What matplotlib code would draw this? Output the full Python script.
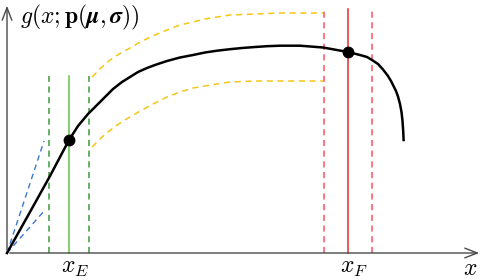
import numpy as np
import matplotlib
matplotlib.use("Agg")
import matplotlib.pyplot as plt

plt.rcParams["mathtext.fontset"] = "cm"

# curve g(x)
curve_x = [0, 23, 43, 62, 71, 81, 90, 98, 106, 115, 123, 131, 140, 148, 160, 173, 186, 198,
           210, 223, 235, 248, 260, 273, 293, 316, 341, 353, 360, 365, 371, 376, 381, 384,
           386, 389, 391, 393, 394.5, 395.5, 396.2, 396.6]
curve_y = [0, 41, 77, 113, 127, 139, 148, 156, 164, 171, 176, 181, 185, 188, 192, 195.5, 198, 200.5,
           202.3, 203.8, 205, 206, 206.8, 207.3, 207.3, 205.5, 201, 198, 196, 193, 189, 183.5, 177, 172,
           168, 162, 156.5, 149, 141, 132, 122, 113]

# yellow bands
upper_x = [85, 95, 103, 112, 123, 135, 148, 160, 173, 186, 198, 210, 223, 248, 273, 316]
upper_y = [176, 186, 193, 199, 205, 212, 218, 223, 228, 231, 234, 236, 238, 239, 240, 240]
lower_x = [85, 95, 106, 116, 123, 135, 148, 160, 173, 186, 198, 210, 223, 248, 273, 316]
lower_y = [106, 116, 125, 132, 136, 143, 150, 156, 161, 165, 167, 169, 171, 172, 172, 172]

# blue tangents
tan_hi = ([0, 37], [0, 112])
tan_lo = ([0, 38], [0, 43])

# marked points
x_E = 62
x_F = 341
dx_E = 20
dx_F = 24
top_E = 177
top_F = 244
pts_x = [62, 341]
pts_y = [113, 201]

fig = plt.figure(figsize=(4.84, 2.8), dpi=100)
ax = fig.add_axes([0, 0, 1, 1])
ax.set_xlim(-7, 477)
ax.set_ylim(-27, 253)
ax.axis("off")

axc = "#4a4a4a"
ax.annotate("", xy=(475, 0), xytext=(0, 0),
            arrowprops=dict(arrowstyle="->,head_length=0.9,head_width=0.35", color=axc, lw=1))
ax.annotate("", xy=(0, 250), xytext=(0, 0),
            arrowprops=dict(arrowstyle="->,head_length=0.9,head_width=0.35", color=axc, lw=1))

ax.plot(*tan_hi, color="#3a78d0", lw=1, ls=(0, (4, 3)))
ax.plot(*tan_lo, color="#3a78d0", lw=1, ls=(0, (4, 3)))

ax.plot([x_E - dx_E] * 2, [0, top_E], color="#3a9a3a", lw=1.1, ls=(0, (4, 3)))
ax.plot([x_E + dx_E] * 2, [0, top_E], color="#3a9a3a", lw=1.1, ls=(0, (4, 3)))
ax.plot([x_E] * 2, [0, top_E], color="#66c24a", lw=1.1)

ax.plot([x_F - dx_F] * 2, [0, top_F], color="#ff5060", lw=1.1, ls=(0, (4, 3)))
ax.plot([x_F + dx_F] * 2, [0, top_F], color="#ff5060", lw=1.1, ls=(0, (4, 3)))
ax.plot([x_F] * 2, [0, top_F], color="#e82a2a", lw=1.1)

ax.plot(upper_x, upper_y, color="#f5c518", lw=1.1, ls=(0, (4, 3)))
ax.plot(lower_x, lower_y, color="#f5c518", lw=1.1, ls=(0, (4, 3)))

ax.plot(curve_x, curve_y, color="black", lw=1.8, solid_joinstyle="round")
ax.plot(pts_x, pts_y, "o", color="black", ms=7.5)

ax.text(13, 236, r"$g(x;\mathbf{p}(\boldsymbol{\mu},\boldsymbol{\sigma}))$",
        fontsize=17, ha="left", va="center")
ax.text(x_E + 6, -14, r"$x_E$", fontsize=17, ha="center", va="center")
ax.text(x_F + 6, -14, r"$x_F$", fontsize=17, ha="center", va="center")
ax.text(463, -15, r"$x$", fontsize=17, ha="center", va="center")

fig.savefig("out.png", dpi=100)
